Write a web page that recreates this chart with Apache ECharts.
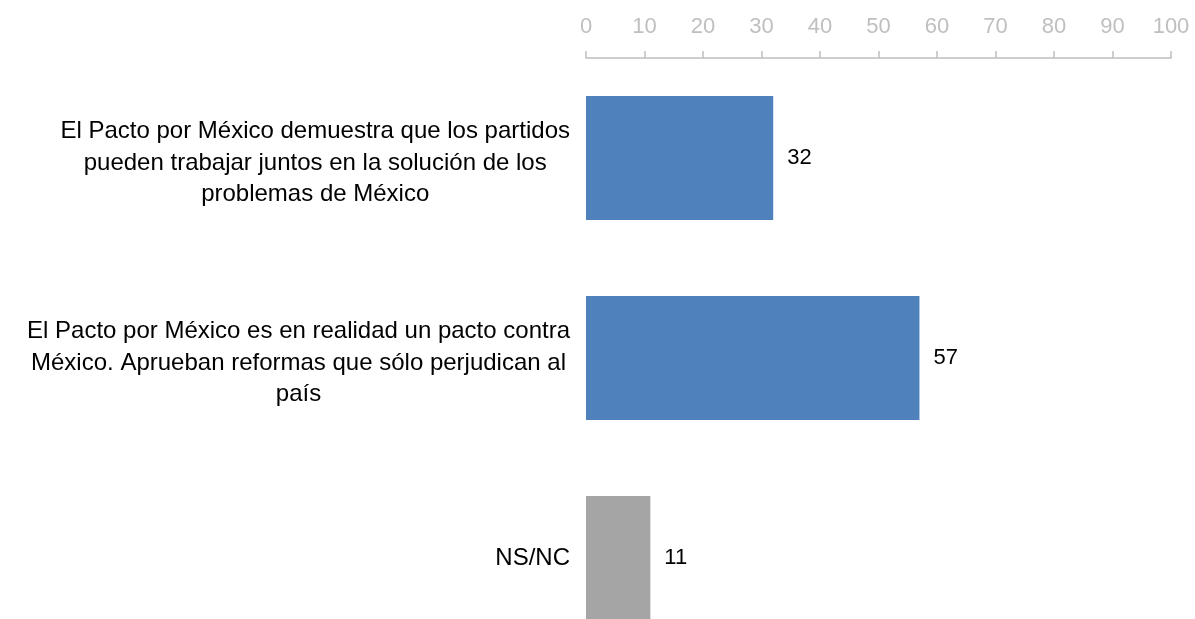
<!DOCTYPE html>
<html><head><meta charset="utf-8">
<script src="https://cdn.jsdelivr.net/npm/echarts@6/dist/echarts.min.js"></script>
<style>html,body{margin:0;padding:0;background:#fff}#c{width:1195px;height:619px}</style>
</head><body><div id="c"></div>
<script>
const categories = [
  "El Pacto por México demuestra que los partidos\npueden trabajar juntos en la solución de los\nproblemas de México",
  "El Pacto por México es en realidad un pacto contra\nMéxico. Aprueban reformas que sólo perjudican al\npaís",
  "NS/NC"
];
const values = [32, 57, 11];
const barColors = ["#4F81BD", "#4F81BD", "#A5A5A5"];
const axisMin = 0, axisMax = 100, axisStep = 10;

const chart = echarts.init(document.getElementById('c'));
const FONT = "'Liberation Sans', sans-serif";
chart.setOption({
  animation: false,
  grid: {left: 586, width: 585, top: 58, height: 600, containLabel: false, outerBoundsMode: 'none'},
  xAxis: {
    type: 'value', position: 'top', min: axisMin, max: axisMax, interval: axisStep,
    axisLine: {show: true, lineStyle: {color: '#BFBFBF', width: 1.5}},
    axisTick: {show: true, length: 7, lineStyle: {color: '#BFBFBF', width: 1.5}},
    axisLabel: {color: '#BFBFBF', fontSize: 22, fontFamily: FONT, margin: 20},
    splitLine: {show: false}
  },
  yAxis: {
    type: 'category', inverse: true,
    data: categories.map(c => ({value: c, textStyle: {padding: c.indexOf('\n') >= 0 ? [10, 0, 0, 0] : 0}})),
    axisLine: {show: false}, axisTick: {show: false},
    axisLabel: {
      margin: 16, color: '#000', fontSize: 24, fontFamily: FONT, lineHeight: 31.5,
      formatter: function (v) { return v.split('\n').map(s => '{a|' + s + '}').join('\n'); },
      rich: {a: {align: 'center', fontSize: 24, fontFamily: FONT, lineHeight: 31.5, color: '#000'}}
    }
  },
  series: [{
    type: 'bar',
    data: values.map((v, i) => ({value: v, itemStyle: {color: barColors[i]}})),
    barCategoryGap: '38%',
    label: {show: true, position: 'right', distance: 14, color: '#000', fontSize: 22, fontFamily: FONT, padding: [4, 0, 0, 0]}
  }]
});
</script></body></html>
